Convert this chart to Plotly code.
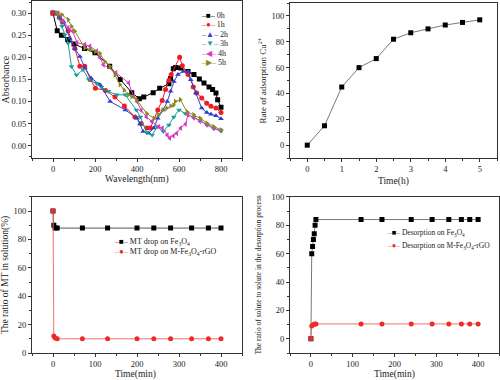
import plotly.graph_objects as go

# ---------- Panel 1: absorbance spectra ----------
x0h = [0, 20, 40, 70, 100, 150, 200, 270, 320, 375, 411, 432, 477, 508, 552, 560, 573, 584, 608, 643, 671, 697, 719, 743, 760, 776, 784, 800]
y0h = [0.30, 0.26, 0.25, 0.24, 0.23, 0.22, 0.21, 0.18, 0.15, 0.12, 0.106, 0.11, 0.12, 0.13, 0.14, 0.152, 0.174, 0.177, 0.176, 0.168, 0.161, 0.151, 0.142, 0.133, 0.127, 0.119, 0.104, 0.087]
x1h = [0, 30, 45, 72, 104, 128, 151, 178, 202, 250, 295, 340, 390, 420, 448, 464, 499, 520, 536, 552, 563, 603, 616, 643, 668, 684, 708, 732, 752, 776, 800]
y1h = [0.30, 0.29, 0.28, 0.26, 0.22, 0.18, 0.18, 0.15, 0.13, 0.125, 0.11, 0.09, 0.065, 0.05, 0.04, 0.04, 0.081, 0.102, 0.127, 0.148, 0.161, 0.20, 0.181, 0.161, 0.133, 0.119, 0.108, 0.096, 0.089, 0.085, 0.075]
x2h = [20, 32, 51, 80, 104, 128, 152, 181, 224, 272, 344, 400, 414, 429, 456, 480, 499, 525, 544, 560, 576, 595, 620, 643, 656, 680, 708, 732, 752, 776, 800]
y2h = [0.30, 0.29, 0.28, 0.243, 0.22, 0.202, 0.176, 0.153, 0.138, 0.10, 0.081, 0.062, 0.049, 0.032, 0.028, 0.04, 0.062, 0.081, 0.10, 0.123, 0.145, 0.161, 0.168, 0.168, 0.149, 0.119, 0.085, 0.075, 0.071, 0.068, 0.061]
x3h = [19, 43, 56, 72, 88, 112, 143, 170, 207, 231, 264, 304, 344, 397, 416, 445, 472, 496, 525, 552, 575, 600, 630, 670, 701, 733, 765, 800]
y3h = [0.30, 0.27, 0.251, 0.232, 0.179, 0.16, 0.172, 0.15, 0.141, 0.132, 0.123, 0.115, 0.115, 0.081, 0.065, 0.030, 0.024, 0.043, 0.032, 0.047, 0.065, 0.081, 0.073, 0.064, 0.057, 0.047, 0.039, 0.033]
x4h = [24, 48, 72, 93, 115, 152, 176, 208, 224, 240, 300, 360, 384, 400, 420, 445, 470, 504, 521, 544, 556, 573, 589, 608, 631, 643, 670, 700, 733, 765, 800]
y4h = [0.30, 0.282, 0.267, 0.259, 0.233, 0.229, 0.225, 0.214, 0.199, 0.183, 0.165, 0.142, 0.111, 0.10, 0.08, 0.065, 0.055, 0.043, 0.04, 0.024, 0.017, 0.022, 0.028, 0.04, 0.049, 0.07, 0.063, 0.055, 0.047, 0.04, 0.034]
x5h = [20, 43, 72, 88, 104, 151, 178, 202, 223, 247, 271, 295, 319, 338, 359, 375, 398, 446, 481, 502, 523, 542, 561, 574, 582, 606, 638, 670, 701, 733, 765, 800]
y5h = [0.30, 0.296, 0.285, 0.27, 0.259, 0.221, 0.218, 0.213, 0.209, 0.19, 0.179, 0.16, 0.138, 0.126, 0.115, 0.111, 0.104, 0.073, 0.062, 0.07, 0.081, 0.085, 0.09, 0.092, 0.10, 0.104, 0.077, 0.07, 0.062, 0.051, 0.043, 0.036]
spec_names = ["0h", "1h", "2h", "3h", "4h", "5h"]

# ---------- Panel 2: adsorption rate ----------
t_hours = [0, 0.5, 1, 1.5, 2, 2.5, 3, 3.5, 4, 4.5, 5]
rate_cu = [0, 15, 45, 60, 67, 82, 87, 90, 93, 95, 97]

# ---------- Panel 3: MT drop ----------
t_mt_fe = [0, 2, 5, 10, 70, 130, 200, 240, 280, 330, 370, 400]
mt_fe = [100, 90, 88, 88, 88, 88, 88, 88, 88, 88, 88, 88]
t_mt_rgo = [0, 2, 5, 10, 70, 130, 200, 240, 280, 330, 370, 400]
mt_rgo = [100, 12, 10.5, 10, 10, 10, 10, 10, 10, 10, 10, 10]
mt_names = ["MT drop on Fe<sub>3</sub>O<sub>4</sub>", "MT drop on M-Fe<sub>3</sub>O<sub>4</sub>-rGO"]

# ---------- Panel 4: desorption ----------
t_des_fe = [0, 2, 4, 6, 8, 10, 12, 120, 170, 240, 290, 330, 360, 380, 400]
des_fe = [0, 60, 65, 70, 74, 80, 84, 84, 84, 84, 84, 84, 84, 84, 84]
t_des_rgo = [0, 2, 6, 10, 12, 120, 170, 240, 290, 330, 360, 380, 400]
des_rgo = [0, 9, 10, 10.5, 10.5, 10.5, 10.5, 10.5, 10.5, 10.5, 10.5, 10.5, 10.5]
des_names = ["Desorption on Fe<sub>3</sub>O<sub>4</sub>", "Desorption on M-Fe<sub>3</sub>O<sub>4</sub>-rGO"]

FONT = "Liberation Serif"
fig = go.Figure()

spec = [(x0h, y0h, "#000000", "square", "■"), (x1h, y1h, "#ee1c24", "circle", "●"),
        (x2h, y2h, "#2e3fc8", "triangle-up", "▲"), (x3h, y3h, "#1a9c9c", "triangle-down", "▼"),
        (x4h, y4h, "#d63cbf", "triangle-left", "◀"), (x5h, y5h, "#868a1e", "triangle-right", "▶")]
for name, (xs, ys, c, sym, _) in zip(spec_names, spec):
    fig.add_trace(go.Scatter(x=xs, y=ys, name=name, mode="lines+markers", showlegend=False,
                             line=dict(color=c, width=1), marker=dict(color=c, symbol=sym, size=5),
                             xaxis="x", yaxis="y"))

fig.add_trace(go.Scatter(x=t_hours, y=rate_cu, mode="lines+markers", showlegend=False,
                         line=dict(color="#7a7a7a", width=1), marker=dict(color="black", symbol="square", size=5),
                         xaxis="x2", yaxis="y2"))

fig.add_trace(go.Scatter(x=t_mt_fe, y=mt_fe, name=mt_names[0], mode="lines+markers", showlegend=False,
                         line=dict(color="#555555", width=1), marker=dict(color="black", symbol="square", size=5),
                         xaxis="x3", yaxis="y3"))
fig.add_trace(go.Scatter(x=t_mt_rgo, y=mt_rgo, name=mt_names[1], mode="lines+markers", showlegend=False,
                         line=dict(color="#f07070", width=1), marker=dict(color="#ee2a2a", symbol="circle", size=5),
                         xaxis="x3", yaxis="y3"))

fig.add_trace(go.Scatter(x=t_des_fe, y=des_fe, name=des_names[0], mode="lines+markers", showlegend=False,
                         line=dict(color="#777777", width=1), marker=dict(color="black", symbol="square", size=5),
                         xaxis="x4", yaxis="y4"))
fig.add_trace(go.Scatter(x=t_des_rgo, y=des_rgo, name=des_names[1], mode="lines+markers", showlegend=False,
                         line=dict(color="#f07070", width=1), marker=dict(color="#ee2a2a", symbol="circle", size=5),
                         xaxis="x4", yaxis="y4"))


def ax(domain, rng, dtick, minor_dtick, anchor, title=None, fmt=None, standoff=4, tsize=10):
    d = dict(domain=domain, range=rng, dtick=dtick, tick0=0, anchor=anchor, automargin=False,
             showline=True, linecolor="#333", linewidth=1, mirror=True,
             ticks="outside", ticklen=3, tickcolor="#333", showgrid=False, zeroline=False,
             minor=dict(ticks="outside", ticklen=2, dtick=minor_dtick, tick0=0, tickcolor="#333", showgrid=False),
             tickfont=dict(family=FONT, size=8.5, color="#222"))
    if title:
        d["title"] = dict(text=title, font=dict(family=FONT, size=tsize, color="#222"), standoff=standoff)
    if fmt:
        d["tickformat"] = fmt
    return d


def legend_text(line_c, mark_c, glyph, label):
    return (f"<span style='color:{line_c}'>–</span><span style='color:{mark_c}'>{glyph}</span>"
            f"<span style='color:{line_c}'>–</span> {label}")


def paper_text(text, px, py, size=9.5):
    return dict(xref="paper", yref="paper", x=px / 500, y=1 - py / 380, xanchor="center", yanchor="middle",
                showarrow=False, text=text, font=dict(family=FONT, size=size, color="#222"))


annots = []
# Panel 1 legend
for i, (name, (xs, ys, c, sym, g)) in enumerate(zip(spec_names, spec)):
    annots.append(dict(xref="paper", yref="paper", x=199 / 500, y=1 - (15 + 9.6 * i) / 380,
                       xanchor="left", yanchor="middle", showarrow=False,
                       text=legend_text(c, c, g, name), font=dict(family=FONT, size=8, color="#222")))
# Panel 3 legend
for i, (name, lc, mc, g) in enumerate(zip(mt_names, ["#555555", "#f07070"], ["black", "#ee2a2a"], ["■", "●"])):
    annots.append(dict(xref="paper", yref="paper", x=112 / 500, y=1 - (242 + 10 * i) / 380,
                       xanchor="left", yanchor="middle", showarrow=False,
                       text=legend_text(lc, mc, g, name), font=dict(family=FONT, size=8, color="#222")))
# Panel 4 legend
for i, (name, lc, mc, g) in enumerate(zip(des_names, ["#777777", "#f07070"], ["black", "#ee2a2a"], ["■", "●"])):
    annots.append(dict(xref="paper", yref="paper", x=385 / 500, y=1 - (233 + 13 * i) / 380,
                       xanchor="left", yanchor="middle", showarrow=False,
                       text=legend_text(lc, mc, g, name), font=dict(family=FONT, size=7.5, color="#222")))
# x-axis titles
annots += [paper_text("Wavelength(nm)", 137, 180), paper_text("Time(h)", 393, 181),
           paper_text("Time(min)", 135, 374), paper_text("Time(min)", 394, 374)]

fig.update_layout(
    width=500, height=380, margin=dict(l=0, r=0, t=0, b=0), showlegend=False,
    paper_bgcolor="white", plot_bgcolor="white",
    xaxis=ax([0.064, 0.484], [-100, 900], 200, 100, "y"),
    yaxis=ax([0.584, 0.997], [-0.028, 0.327], 0.05, 0.025, "x", "Absorbance", ".2f", 3),
    xaxis2=ax([0.58, 0.994], [-0.5, 5.5], 1, 0.5, "y2"),
    yaxis2=ax([0.584, 0.992], [-10, 110], 20, 10, "x2", "Rate of adsorption Cu<sup>2+</sup>", None, 3, 9),
    xaxis3=ax([0.064, 0.484], [-50, 450], 100, 50, "y3"),
    yaxis3=ax([0.071, 0.482], [0, 110], 20, 10, "x3", "The ratio of MT in solution(%)", None, 3, 9.5),
    xaxis4=ax([0.58, 0.998], [-50, 450], 100, 50, "y4"),
    yaxis4=ax([0.071, 0.482], [-10, 100], 20, 10, "x4", "The ratio of solute to solute in the desorption process", None, 8, 7.5),
    annotations=annots,
)

fig.write_html("out.html", config={"displayModeBar": False},
               post_script="document.body.style.margin='0';document.body.style.overflow='hidden';")
